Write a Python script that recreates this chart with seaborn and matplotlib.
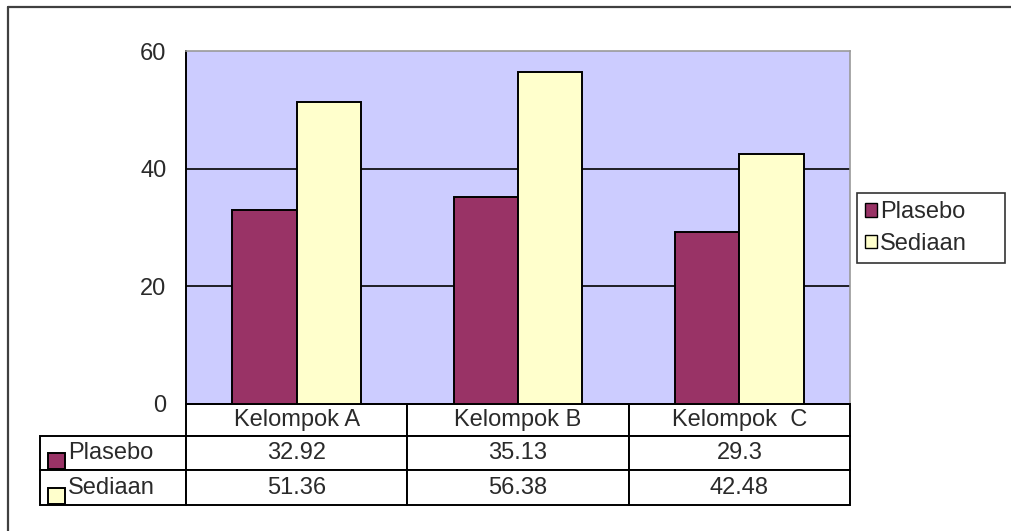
import matplotlib
matplotlib.use("Agg")
import matplotlib.pyplot as plt
from matplotlib.patches import Patch, Rectangle
from matplotlib.lines import Line2D
from matplotlib.table import Table
import seaborn as sns
import pandas as pd

# Chart values
categories = ["Kelompok A", "Kelompok B", "Kelompok  C"]
series_names = ["Plasebo", "Sediaan"]
plasebo = [32.92, 35.13, 29.3]
sediaan = [51.36, 56.38, 42.48]
y_ticks = [0, 20, 40, 60]

colors = {"Plasebo": "#993366", "Sediaan": "#FFFFCC"}
plot_bg = "#CCCCFF"
text_col = "#2a2a2a"
FS = 17

sns.set_style("white")
plt.rcParams["font.family"] = ["Liberation Sans", "DejaVu Sans"]

W, H = 1012, 531
fig = plt.figure(figsize=(W / 100, H / 100), dpi=100)
fig.patch.set_facecolor("white")


def fx(px):
    return px / W


def fy(py):
    return 1 - py / H


# Plot area
ax_l, ax_r, ax_t, ax_b = 186, 850, 51, 404
ax = fig.add_axes([fx(ax_l), fy(ax_b), fx(ax_r - ax_l), (ax_b - ax_t) / H])
ax.set_facecolor(plot_bg)

df = pd.DataFrame({
    "Kelompok": categories * 2,
    "Seri": ["Plasebo"] * 3 + ["Sediaan"] * 3,
    "Nilai": plasebo + sediaan,
})
sns.barplot(data=df, x="Kelompok", y="Nilai", hue="Seri", order=categories,
            hue_order=series_names, palette=colors, width=0.58,
            edgecolor="black", linewidth=1.4, saturation=1, legend=False,
            ax=ax, zorder=3)

ax.set_ylim(0, 60)
ax.set_xlim(-0.5, 2.5)
ax.set_yticks(y_ticks)
ax.set_yticklabels([str(t) for t in y_ticks], fontsize=FS, color=text_col)
ax.tick_params(axis="y", direction="in", length=6, width=1.4, color="black", pad=14)
ax.tick_params(axis="x", length=0, labelbottom=False)
ax.set_xlabel("")
ax.set_ylabel("")

# Horizontal gridlines at the inner ticks
for t in y_ticks[1:-1]:
    ax.axhline(t, color="black", linewidth=1.2, zorder=1)

for side in ("left", "bottom"):
    ax.spines[side].set_color("black")
    ax.spines[side].set_linewidth(1.4)
for side in ("top", "right"):
    ax.spines[side].set_color("#9a9a9a")
    ax.spines[side].set_linewidth(1.2)

# Data table under the plot
tab_l = 40
row_h = [32, 34, 35]
col_w = [ax_l - tab_l] + [(ax_r - ax_l) / len(categories)] * len(categories)
tot_w = sum(col_w)
tot_h = sum(row_h)
bbox = [(tab_l - ax_l) / (ax_r - ax_l), -(tot_h) / (ax_b - ax_t),
        tot_w / (ax_r - ax_l), tot_h / (ax_b - ax_t)]
tbl = Table(ax, bbox=bbox)
rows = [[""] + categories,
        [series_names[0]] + [f"{v:g}" for v in plasebo],
        [series_names[1]] + [f"{v:g}" for v in sediaan]]
for r, row in enumerate(rows):
    for c, txt in enumerate(row):
        loc = "left" if (c == 0) else "center"
        cell = tbl.add_cell(r, c, width=col_w[c] / tot_w, height=row_h[r] / tot_h,
                            text=txt, loc=loc, facecolor="white", edgecolor="black")
        cell.set_linewidth(1.4)
        cell.get_text().set_color(text_col)
        if c == 0:
            cell.PAD = 28 / col_w[0]
        if r == 0 and c == 0:
            cell.visible_edges = ""
            cell.set_facecolor("none")
tbl.auto_set_font_size(False)
tbl.set_fontsize(FS)
tbl.set_clip_on(False)
ax.add_table(tbl)

# Series keys inside the table's row labels
y_row = ax_b + row_h[0]
for i, name in enumerate(series_names):
    bottom = y_row + sum(row_h[1:i + 2]) - 1
    fig.add_artist(Rectangle((fx(48), fy(bottom)), fx(17), 16 / H,
                             transform=fig.transFigure, facecolor=colors[name],
                             edgecolor="black", linewidth=1.4))

# Legend
handles = [Patch(facecolor=colors[n], edgecolor="black", linewidth=1.0, label=n)
           for n in series_names]
leg = fig.legend(handles=handles, loc="upper left",
                 bbox_to_anchor=(fx(857), fy(263), fx(148), 70 / H),
                 mode="expand", fontsize=FS,
                 frameon=True, fancybox=False, handlelength=0.5,
                 handleheight=0.5, handletextpad=0.12, labelspacing=0.4,
                 borderpad=0.35, borderaxespad=0)
leg.get_frame().set_edgecolor("black")
leg.get_frame().set_linewidth(1.2)
for t in leg.get_texts():
    t.set_color(text_col)

# Chart frame
fig.add_artist(Line2D([fx(8), fx(8)], [0, fy(7)], transform=fig.transFigure,
                      color="#404040", linewidth=1.6))
fig.add_artist(Line2D([fx(8), 1], [fy(7), fy(7)], transform=fig.transFigure,
                      color="#404040", linewidth=1.6))

fig.savefig("out.png", dpi=100)
